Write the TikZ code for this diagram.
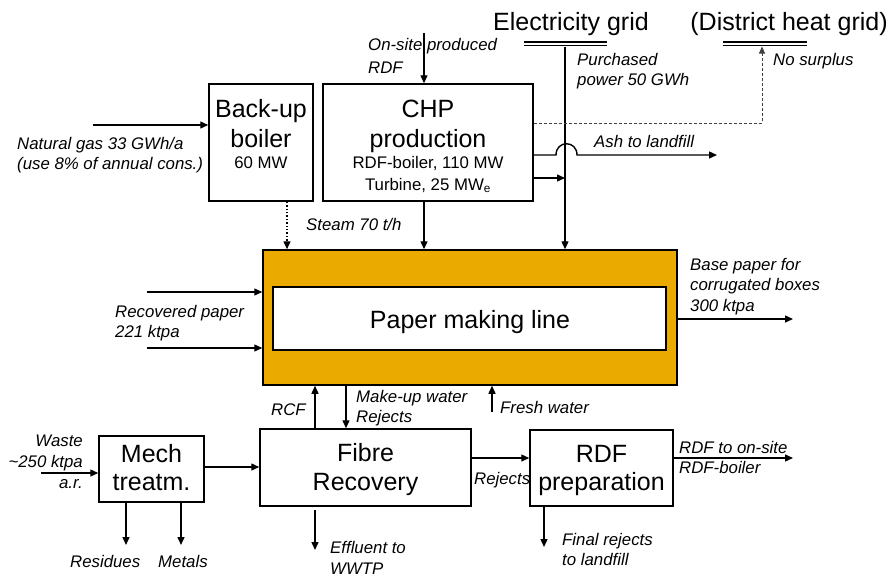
\documentclass[tikz,border=0pt]{standalone}
\usepackage{fontspec}
\setmainfont{Liberation Sans}
\usetikzlibrary{arrows.meta}
\definecolor{pmorange}{RGB}{235,170,0}
\begin{document}
\begin{tikzpicture}[x=1pt,y=-1pt,
  box/.style={draw,line width=1.5pt,inner sep=0pt},
  big/.style={font=\fontsize{25}{30}\selectfont,inner sep=0pt,anchor=base},
  mid/.style={font=\fontsize{16.8}{20}\selectfont,inner sep=0pt,anchor=base},
  lbl/.style={font=\fontsize{16.8}{20}\selectfont\itshape,inner sep=0pt,anchor=base west},
  flow/.style={line width=1.4pt,-{Triangle[length=8pt,width=7pt]}},
  gridbar/.style={line width=1.1pt},
]
\useasboundingbox (0,0) rectangle (894,573);
\fill[white] (0,0) rectangle (894,573);

% ---------- boxes ----------
\node[box,minimum width=104,minimum height=117] (backup) at (261,142.5) {};
\node[box,minimum width=210,minimum height=117] (chp) at (428,142.5) {};
\node[box,fill=pmorange,minimum width=414,minimum height=135] (pml) at (470,317.5) {};
\node[box,fill=white,minimum width=393,minimum height=63] (pmlin) at (469.5,318.5) {};
\node[box,minimum width=105,minimum height=66] (mech) at (151.5,469) {};
\node[box,minimum width=211,minimum height=77] (fibre) at (365.5,467.5) {};
\node[box,minimum width=143,minimum height=76] (rdf) at (601.5,468) {};

% ---------- box texts ----------
\node[big] (tbk1) at (261,117) {Back-up};
\node[big] (tbk2) at (261,147) {boiler};
\node[mid] (tbk3) at (261,168) {60 MW};
\node[big] (tchp1) at (428,117) {CHP};
\node[big] (tchp2) at (428,147) {production};
\node[mid] (tchp3) at (428,168) {RDF-boiler, 110 MW};
\node[mid] (tchp4) at (428,190) {Turbine, 25 MW\textsubscript{e}};
\node[big] (tpml) at (470,328) {Paper making line};
\node[big] (tmech1) at (151.5,462) {Mech};
\node[big] (tmech2) at (151.5,490) {treatm.};
\node[big] (tfib1) at (365.5,461) {Fibre};
\node[big] (tfib2) at (365.5,490) {Recovery};
\node[big] (trdf1) at (601.5,462) {RDF};
\node[big] (trdf2) at (601.5,490) {preparation};

% ---------- grids ----------
\node[big] (elec) at (571,30) {Electricity grid};
\node[big] (dheat) at (789,30) {(District heat grid)};
\coordinate (eb1) at (524,42);
\coordinate (eb2) at (607,42);
\coordinate (eb3) at (524,45.5);
\coordinate (eb4) at (607,45.5);
\draw[gridbar] (eb1) -- (eb2);
\draw[gridbar] (eb3) -- (eb4);
\coordinate (db1) at (723,42);
\coordinate (db2) at (807,42);
\coordinate (db3) at (723,45.5);
\coordinate (db4) at (807,45.5);
\draw[gridbar] (db1) -- (db2);
\draw[gridbar] (db3) -- (db4);

% ---------- helper coordinates ----------
\coordinate (gasS) at (93,125);
\coordinate (rdfin) at (424,33);
\coordinate (stx) at (287,0);
\coordinate (chx) at (424,0);
\coordinate (elx) at (565,46.5);
\coordinate (ty) at (0,178);
\coordinate (ay) at (0,155);
\coordinate (j1) at (556,155);
\coordinate (j2) at (577,155);
\coordinate (ashend) at (717,155);
\coordinate (dy) at (0,123);
\coordinate (dhx) at (762,46.5);
\coordinate (rp1) at (147,292);
\coordinate (rp2) at (147,348);
\coordinate (outend) at (793,319);
\coordinate (rcx) at (315,0);
\coordinate (mkx) at (346,0);
\coordinate (fresh) at (492,412);
\coordinate (waste) at (41,473);
\coordinate (mfy) at (0,467);
\coordinate (res) at (126,545);
\coordinate (met) at (181,545);
\coordinate (eff1) at (315,510);
\coordinate (eff2) at (315,550);
\coordinate (rjy) at (0,458);
\coordinate (rdfend) at (793,458);
\coordinate (frj) at (544,547);

% ---------- connectors ----------
\draw[flow] (gasS) -- (gasS -| backup.west);
\draw[flow] (rdfin) -- (rdfin |- chp.north);
\draw[flow,dotted] (backup.south -| stx) -- (pml.north -| stx);
\draw[flow] (chp.south -| chx) -- (pml.north -| chx);
\draw[flow] (elx) -- (pml.north -| elx);
\draw[flow] (chp.east |- ty) -- (elx |- ty);
\draw[flow] (chp.east |- ay) -- (j1) .. controls (556,140) and (577,140) .. (j2) -- (ashend);
\draw[line width=0.9pt,dash pattern=on 3pt off 2pt,draw=black!75,-{Triangle[length=7pt,width=6pt]}]
  (chp.east |- dy) -- (dhx |- dy) -- (dhx);
\draw[flow] (rp1) -- (rp1 -| pml.west);
\draw[flow] (rp2) -- (rp2 -| pml.west);
\draw[flow] (pml.east |- outend) -- (outend);
\draw[flow] (fibre.north -| rcx) -- (pml.south -| rcx);
\draw[flow] (pml.south -| mkx) -- (fibre.north -| mkx);
\draw[flow] (fresh) -- (fresh |- pml.south);
\draw[flow] (waste) -- (waste -| mech.west);
\draw[flow] (mech.east |- mfy) -- (fibre.west |- mfy);
\draw[flow] (mech.south -| res) -- (res);
\draw[flow] (mech.south -| met) -- (met);
\draw[flow] (eff1) -- (eff2);
\draw[flow] (fibre.east |- rjy) -- (rdf.west |- rjy);
\draw[flow] (rdf.east |- rjy) -- (rdfend);
\draw[flow] (rdf.south -| frj) -- (frj);

% ---------- labels ----------
\node[lbl] (lonsite1) at (368,50) {On-site produced};
\node[lbl] (lonsite2) at (368,73) {RDF};
\node[lbl] (lgas1) at (17,149) {Natural gas 33 GWh/a};
\node[lbl] (lgas2) at (17,169) {(use 8\% of annual cons.)};
\node[lbl] (lsteam) at (306,230) {Steam 70 t/h};
\node[lbl] (lpur1) at (577,65) {Purchased};
\node[lbl] (lpur2) at (577,85) {power 50 GWh};
\node[lbl] (lnosur) at (773,65) {No surplus};
\node[lbl] (lash) at (594,147) {Ash to landfill};
\node[lbl] (lrec1) at (115,317) {Recovered paper};
\node[lbl] (lrec2) at (115,337) {221 ktpa};
\node[lbl] (lbase1) at (690,270) {Base paper for};
\node[lbl] (lbase2) at (690,290) {corrugated boxes};
\node[lbl] (lbase3) at (690,311) {300 ktpa};
\node[lbl] (lrcf) at (271,415) {RCF};
\node[lbl] (lmk1) at (356,402) {Make-up water};
\node[lbl] (lmk2) at (356,422) {Rejects};
\node[lbl] (lfresh) at (500,413) {Fresh water};
\node[lbl,anchor=base east] (lw1) at (83,446) {Waste};
\node[lbl,anchor=base east] (lw2) at (83,467) {\textasciitilde250 ktpa};
\node[lbl,anchor=base east] (lw3) at (83,488) {a.r.};
\node[lbl] (lres) at (70,567) {Residues};
\node[lbl] (lmet) at (158,567) {Metals};
\node[lbl] (leff1) at (330,553) {Effluent to};
\node[lbl] (leff2) at (330,574) {WWTP};
\node[lbl] (lrej) at (474,484) {Rejects};
\node[lbl] (lrdf1) at (679,453) {RDF to on-site};
\node[lbl] (lrdf2) at (679,473) {RDF-boiler};
\node[lbl] (lfin1) at (562,545) {Final rejects};
\node[lbl] (lfin2) at (562,565) {to landfill};
\end{tikzpicture}
\end{document}
